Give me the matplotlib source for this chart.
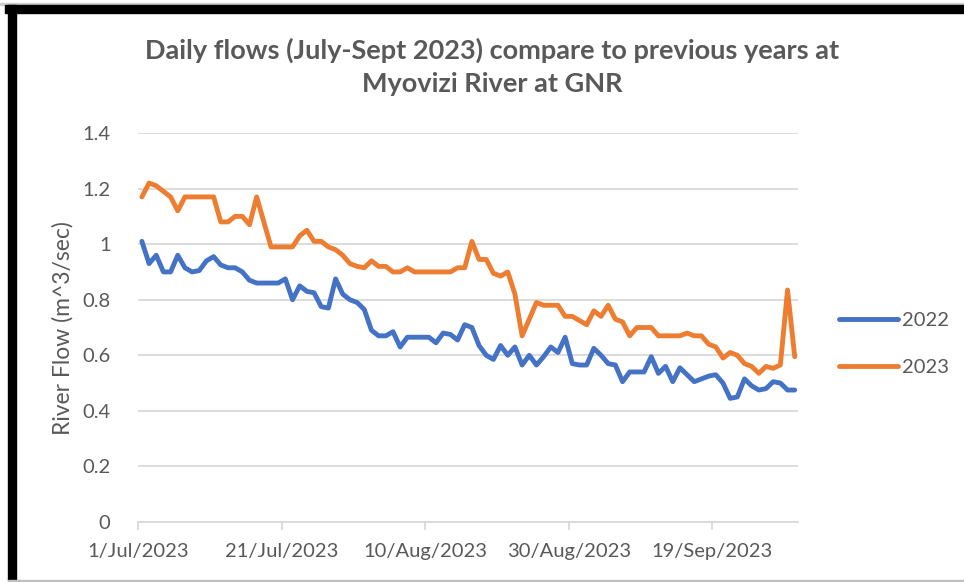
import datetime as dt

import matplotlib

matplotlib.use("Agg")
import matplotlib.pyplot as plt
from matplotlib.patches import Rectangle


# Daily flows, 1 Jul to 30 Sep (92 days)
series_names = ["2022", "2023"]
flow_2022 = [
    1.01, 0.93, 0.96, 0.90, 0.90, 0.96, 0.915, 0.90, 0.905, 0.94,
    0.955, 0.925, 0.915, 0.915, 0.90, 0.87, 0.86, 0.86, 0.86, 0.86,
    0.875, 0.80, 0.85, 0.83, 0.825, 0.775, 0.77, 0.875, 0.82, 0.80,
    0.79, 0.765, 0.69, 0.67, 0.67, 0.685, 0.63, 0.665, 0.665, 0.665,
    0.665, 0.645, 0.68, 0.675, 0.655, 0.71, 0.70, 0.635, 0.60, 0.585,
    0.635, 0.60, 0.63, 0.565, 0.60, 0.565, 0.595, 0.63, 0.61, 0.665,
    0.57, 0.565, 0.565, 0.625, 0.60, 0.57, 0.565, 0.505, 0.54, 0.54,
    0.54, 0.595, 0.535, 0.56, 0.505, 0.555, 0.53, 0.505, 0.515, 0.525,
    0.53, 0.50, 0.445, 0.45, 0.515, 0.49, 0.475, 0.48, 0.505, 0.50,
    0.475, 0.475,
]
flow_2023 = [
    1.17, 1.22, 1.21, 1.19, 1.17, 1.12, 1.17, 1.17, 1.17, 1.17,
    1.17, 1.08, 1.08, 1.10, 1.10, 1.07, 1.17, 1.08, 0.99, 0.99,
    0.99, 0.99, 1.03, 1.05, 1.01, 1.01, 0.99, 0.98, 0.96, 0.93,
    0.92, 0.915, 0.94, 0.92, 0.92, 0.90, 0.90, 0.915, 0.90, 0.90,
    0.90, 0.90, 0.90, 0.90, 0.915, 0.915, 1.01, 0.945, 0.945, 0.895,
    0.885, 0.90, 0.82, 0.67, 0.73, 0.79, 0.78, 0.78, 0.78, 0.74,
    0.74, 0.725, 0.71, 0.76, 0.74, 0.78, 0.73, 0.72, 0.67, 0.70,
    0.70, 0.70, 0.67, 0.67, 0.67, 0.67, 0.68, 0.67, 0.67, 0.64,
    0.63, 0.59, 0.61, 0.60, 0.57, 0.56, 0.535, 0.56, 0.553, 0.565,
    0.835, 0.595,
]
start_date = dt.datetime(2023, 7, 1)
tick_labels = ["1/Jul/2023", "21/Jul/2023", "10/Aug/2023", "30/Aug/2023", "19/Sep/2023"]
y_ticks = [0, 0.2, 0.4, 0.6, 0.8, 1, 1.2, 1.4]
y_tick_labels = ["0", "0.2", "0.4", "0.6", "0.8", "1", "1.2", "1.4"]

TEXT = "#595959"
GRID = "#d9d9d9"
COLORS = ["#4472C4", "#ED7D31"]
plt.rcParams["font.family"] = ["Lato", "DejaVu Sans"]

W, H = 964, 582
fig = plt.figure(figsize=(W / 100, H / 100), dpi=100)

# Excel draws each day in the middle of its slot
days = [start_date + dt.timedelta(days=i, hours=12) for i in range(len(flow_2022))]
tick_dates = [start_date + dt.timedelta(days=20 * i) for i in range(len(tick_labels))]

ax = fig.add_axes([138.3 / W, 1 - 522 / H, 660 / W, 389 / H])
for name, flows, color in zip(series_names, [flow_2022, flow_2023], COLORS):
    ax.plot(days, flows, color=color, linewidth=3.5, label=name,
            solid_joinstyle="round", solid_capstyle="round")

ax.set_xlim(start_date, start_date + dt.timedelta(days=len(days)))
ax.set_ylim(0, 1.4)
ax.set_xticks(tick_dates)
ax.set_xticklabels(tick_labels)
ax.set_yticks(y_ticks)
ax.set_yticklabels(y_tick_labels)
ax.grid(axis="y", color=GRID, linewidth=1.3)
ax.set_axisbelow(True)
for side in ["top", "right", "left"]:
    ax.spines[side].set_visible(False)
ax.spines["bottom"].set_color(GRID)
ax.spines["bottom"].set_linewidth(1.3)
ax.tick_params(axis="x", colors=GRID, labelcolor=TEXT, labelsize=14.5,
               length=6, width=1.3, pad=9)
ax.tick_params(axis="y", length=0, labelcolor=TEXT, labelsize=14.5, pad=20)

fig.text(63 / W, 1 - 328 / H, "River Flow (m^3/sec)", rotation=90,
         ha="center", va="center", color=TEXT, fontsize=16.5)
fig.text(492 / W, 1 - 67 / H,
         "Daily flows (July-Sept 2023) compare to previous years at\nMyovizi River at GNR",
         ha="center", va="center", color=TEXT, fontsize=19.5, fontweight="bold",
         linespacing=1.45)

fig.legend(loc="center left", bbox_to_anchor=(821 / W, 1 - 344 / H),
           frameon=False, fontsize=14.5, labelcolor=TEXT, handlelength=2.9,
           handletextpad=0.2, labelspacing=1.45)

# border of the pasted screenshot
def add_box(x0, y0, x1, y1, color):
    fig.patches.append(Rectangle((x0 / W, 1 - y1 / H), (x1 - x0) / W, (y1 - y0) / H,
                                 transform=fig.transFigure, color=color, zorder=10))

add_box(0, 3, W, 5, "#cfcfcf")
add_box(5, 5, W, 12.7, "black")
add_box(8, 5, 16, 580, "black")
add_box(8, 580, W, 581.5, "#bfbfbf")

fig.savefig("out.png", dpi=100)
